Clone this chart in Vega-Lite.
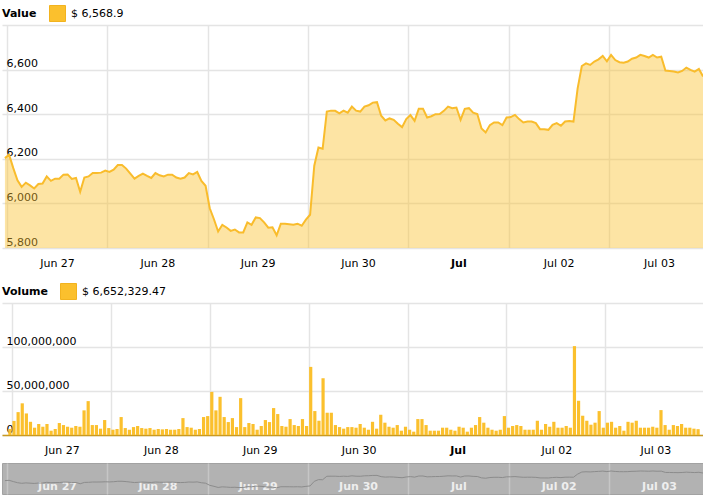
{
"$schema": "https://vega.github.io/schema/vega-lite/v6.json",
"padding": {"left": 0, "right": 0, "top": 5, "bottom": 0},
"background": "white",
"config": {
  "view": {"stroke": null},
  "font": "DejaVu Sans",
  "axis": {"labelFont": "DejaVu Sans", "labelFontSize": 11, "labelColor": "#000000", "gridColor": "#e4e4e4", "gridWidth": 1.5, "domain": false, "ticks": false, "labelFlush": false, "labelOverlap": false, "labelBound": false},
  "legend": {"orient": "top", "direction": "horizontal", "titleOrient": "left", "titleFont": "DejaVu Sans", "titleFontSize": 11, "titleFontWeight": "bold", "titleColor": "#000000", "titlePadding": 12, "labelFont": "DejaVu Sans", "labelFontSize": 11, "labelColor": "#000000", "labelOffset": 5, "symbolType": "square", "symbolSize": 256, "symbolOpacity": 1, "symbolStrokeWidth": 1, "symbolStrokeColor": "#f2b31f", "offset": 1, "padding": 0}
},
"datasets": {"d": [
{"t":"2018-06-26T23:30","p":6203,"v":6800000},
{"t":"2018-06-27T00:30","p":6218,"v":16000000},
{"t":"2018-06-27T01:30","p":6158,"v":26000000},
{"t":"2018-06-27T02:30","p":6104,"v":36000000},
{"t":"2018-06-27T03:30","p":6074,"v":24500000},
{"t":"2018-06-27T04:30","p":6093,"v":15000000},
{"t":"2018-06-27T05:30","p":6081,"v":8300000},
{"t":"2018-06-27T06:30","p":6067,"v":12500000},
{"t":"2018-06-27T07:30","p":6087,"v":9400000},
{"t":"2018-06-27T08:30","p":6089,"v":12500000},
{"t":"2018-06-27T09:30","p":6121,"v":4900000},
{"t":"2018-06-27T10:30","p":6101,"v":6800000},
{"t":"2018-06-27T11:30","p":6111,"v":13600000},
{"t":"2018-06-27T12:30","p":6111,"v":11300000},
{"t":"2018-06-27T13:30","p":6129,"v":9400000},
{"t":"2018-06-27T14:30","p":6130,"v":8300000},
{"t":"2018-06-27T15:30","p":6110,"v":10200000},
{"t":"2018-06-27T16:30","p":6114,"v":9400000},
{"t":"2018-06-27T17:30","p":6052,"v":28000000},
{"t":"2018-06-27T18:30","p":6116,"v":38500000},
{"t":"2018-06-27T19:30","p":6121,"v":11300000},
{"t":"2018-06-27T20:30","p":6136,"v":11300000},
{"t":"2018-06-27T21:30","p":6136,"v":7200000},
{"t":"2018-06-27T22:30","p":6138,"v":17000000},
{"t":"2018-06-27T23:30","p":6147,"v":7900000},
{"t":"2018-06-28T00:30","p":6141,"v":6000000},
{"t":"2018-06-28T01:30","p":6151,"v":6800000},
{"t":"2018-06-28T02:30","p":6172,"v":20400000},
{"t":"2018-06-28T03:30","p":6172,"v":7900000},
{"t":"2018-06-28T04:30","p":6156,"v":6000000},
{"t":"2018-06-28T05:30","p":6133,"v":9000000},
{"t":"2018-06-28T06:30","p":6111,"v":10200000},
{"t":"2018-06-28T07:30","p":6123,"v":7900000},
{"t":"2018-06-28T08:30","p":6133,"v":7200000},
{"t":"2018-06-28T09:30","p":6123,"v":7900000},
{"t":"2018-06-28T10:30","p":6114,"v":6000000},
{"t":"2018-06-28T11:30","p":6136,"v":6800000},
{"t":"2018-06-28T12:30","p":6126,"v":6400000},
{"t":"2018-06-28T13:30","p":6121,"v":6800000},
{"t":"2018-06-28T14:30","p":6129,"v":6000000},
{"t":"2018-06-28T15:30","p":6129,"v":6000000},
{"t":"2018-06-28T16:30","p":6116,"v":6800000},
{"t":"2018-06-28T17:30","p":6111,"v":19200000},
{"t":"2018-06-28T18:30","p":6116,"v":9000000},
{"t":"2018-06-28T19:30","p":6136,"v":8300000},
{"t":"2018-06-28T20:30","p":6130,"v":6000000},
{"t":"2018-06-28T21:30","p":6141,"v":6800000},
{"t":"2018-06-28T22:30","p":6101,"v":20400000},
{"t":"2018-06-28T23:30","p":6079,"v":21500000},
{"t":"2018-06-29T00:30","p":5978,"v":49000000},
{"t":"2018-06-29T01:30","p":5929,"v":28000000},
{"t":"2018-06-29T02:30","p":5874,"v":43400000},
{"t":"2018-06-29T03:30","p":5904,"v":20400000},
{"t":"2018-06-29T04:30","p":5892,"v":14700000},
{"t":"2018-06-29T05:30","p":5877,"v":19200000},
{"t":"2018-06-29T06:30","p":5883,"v":9000000},
{"t":"2018-06-29T07:30","p":5870,"v":41900000},
{"t":"2018-06-29T08:30","p":5870,"v":9000000},
{"t":"2018-06-29T09:30","p":5915,"v":13600000},
{"t":"2018-06-29T10:30","p":5904,"v":12500000},
{"t":"2018-06-29T11:30","p":5937,"v":6000000},
{"t":"2018-06-29T12:30","p":5934,"v":10200000},
{"t":"2018-06-29T13:30","p":5915,"v":17000000},
{"t":"2018-06-29T14:30","p":5891,"v":14700000},
{"t":"2018-06-29T15:30","p":5893,"v":30600000},
{"t":"2018-06-29T16:30","p":5857,"v":23800000},
{"t":"2018-06-29T17:30","p":5909,"v":10200000},
{"t":"2018-06-29T18:30","p":5909,"v":9400000},
{"t":"2018-06-29T19:30","p":5907,"v":18100000},
{"t":"2018-06-29T20:30","p":5904,"v":11300000},
{"t":"2018-06-29T21:30","p":5909,"v":10200000},
{"t":"2018-06-29T22:30","p":5900,"v":18100000},
{"t":"2018-06-29T23:30","p":5927,"v":10200000},
{"t":"2018-06-30T00:30","p":5949,"v":77400000},
{"t":"2018-06-30T01:30","p":6169,"v":27200000},
{"t":"2018-06-30T02:30","p":6251,"v":16200000},
{"t":"2018-06-30T03:30","p":6245,"v":64500000},
{"t":"2018-06-30T04:30","p":6412,"v":25300000},
{"t":"2018-06-30T05:30","p":6416,"v":25300000},
{"t":"2018-06-30T06:30","p":6415,"v":11300000},
{"t":"2018-06-30T07:30","p":6404,"v":9000000},
{"t":"2018-06-30T08:30","p":6416,"v":7200000},
{"t":"2018-06-30T09:30","p":6407,"v":9000000},
{"t":"2018-06-30T10:30","p":6434,"v":9000000},
{"t":"2018-06-30T11:30","p":6416,"v":8300000},
{"t":"2018-06-30T12:30","p":6412,"v":12500000},
{"t":"2018-06-30T13:30","p":6434,"v":8300000},
{"t":"2018-06-30T14:30","p":6440,"v":6000000},
{"t":"2018-06-30T15:30","p":6452,"v":15000000},
{"t":"2018-06-30T16:30","p":6454,"v":7200000},
{"t":"2018-06-30T17:30","p":6393,"v":23000000},
{"t":"2018-06-30T18:30","p":6372,"v":14000000},
{"t":"2018-06-30T19:30","p":6381,"v":9400000},
{"t":"2018-06-30T20:30","p":6375,"v":8300000},
{"t":"2018-06-30T21:30","p":6357,"v":11300000},
{"t":"2018-06-30T22:30","p":6342,"v":4900000},
{"t":"2018-06-30T23:30","p":6378,"v":9400000},
{"t":"2018-07-01T00:30","p":6396,"v":6000000},
{"t":"2018-07-01T01:30","p":6370,"v":3800000},
{"t":"2018-07-01T02:30","p":6425,"v":18100000},
{"t":"2018-07-01T03:30","p":6425,"v":18100000},
{"t":"2018-07-01T04:30","p":6385,"v":11300000},
{"t":"2018-07-01T05:30","p":6391,"v":4900000},
{"t":"2018-07-01T06:30","p":6400,"v":4900000},
{"t":"2018-07-01T07:30","p":6401,"v":4900000},
{"t":"2018-07-01T08:30","p":6415,"v":8300000},
{"t":"2018-07-01T09:30","p":6434,"v":8300000},
{"t":"2018-07-01T10:30","p":6427,"v":6000000},
{"t":"2018-07-01T11:30","p":6430,"v":4900000},
{"t":"2018-07-01T12:30","p":6375,"v":9400000},
{"t":"2018-07-01T13:30","p":6424,"v":8300000},
{"t":"2018-07-01T14:30","p":6427,"v":3800000},
{"t":"2018-07-01T15:30","p":6407,"v":8300000},
{"t":"2018-07-01T16:30","p":6401,"v":11300000},
{"t":"2018-07-01T17:30","p":6336,"v":20400000},
{"t":"2018-07-01T18:30","p":6318,"v":14000000},
{"t":"2018-07-01T19:30","p":6351,"v":8300000},
{"t":"2018-07-01T20:30","p":6363,"v":6000000},
{"t":"2018-07-01T21:30","p":6363,"v":4900000},
{"t":"2018-07-01T22:30","p":6351,"v":6000000},
{"t":"2018-07-01T23:30","p":6385,"v":21500000},
{"t":"2018-07-02T00:30","p":6387,"v":8300000},
{"t":"2018-07-02T01:30","p":6397,"v":10200000},
{"t":"2018-07-02T02:30","p":6378,"v":11300000},
{"t":"2018-07-02T03:30","p":6363,"v":10200000},
{"t":"2018-07-02T04:30","p":6367,"v":6000000},
{"t":"2018-07-02T05:30","p":6367,"v":6000000},
{"t":"2018-07-02T06:30","p":6360,"v":6000000},
{"t":"2018-07-02T07:30","p":6333,"v":16200000},
{"t":"2018-07-02T08:30","p":6333,"v":6000000},
{"t":"2018-07-02T09:30","p":6330,"v":12500000},
{"t":"2018-07-02T10:30","p":6352,"v":9400000},
{"t":"2018-07-02T11:30","p":6360,"v":15000000},
{"t":"2018-07-02T12:30","p":6348,"v":8300000},
{"t":"2018-07-02T13:30","p":6367,"v":8300000},
{"t":"2018-07-02T14:30","p":6370,"v":10200000},
{"t":"2018-07-02T15:30","p":6367,"v":8300000},
{"t":"2018-07-02T16:30","p":6516,"v":101000000},
{"t":"2018-07-02T17:30","p":6616,"v":38900000},
{"t":"2018-07-02T18:30","p":6628,"v":21900000},
{"t":"2018-07-02T19:30","p":6621,"v":16200000},
{"t":"2018-07-02T20:30","p":6636,"v":11700000},
{"t":"2018-07-02T21:30","p":6646,"v":14000000},
{"t":"2018-07-02T22:30","p":6661,"v":27200000},
{"t":"2018-07-02T23:30","p":6637,"v":8300000},
{"t":"2018-07-03T00:30","p":6666,"v":14000000},
{"t":"2018-07-03T01:30","p":6643,"v":15000000},
{"t":"2018-07-03T02:30","p":6633,"v":8300000},
{"t":"2018-07-03T03:30","p":6631,"v":10200000},
{"t":"2018-07-03T04:30","p":6636,"v":4900000},
{"t":"2018-07-03T05:30","p":6649,"v":15000000},
{"t":"2018-07-03T06:30","p":6654,"v":14000000},
{"t":"2018-07-03T07:30","p":6666,"v":16200000},
{"t":"2018-07-03T08:30","p":6661,"v":8300000},
{"t":"2018-07-03T09:30","p":6654,"v":8300000},
{"t":"2018-07-03T10:30","p":6666,"v":8300000},
{"t":"2018-07-03T11:30","p":6654,"v":9400000},
{"t":"2018-07-03T12:30","p":6658,"v":8300000},
{"t":"2018-07-03T13:30","p":6596,"v":28300000},
{"t":"2018-07-03T14:30","p":6594,"v":11300000},
{"t":"2018-07-03T15:30","p":6591,"v":6000000},
{"t":"2018-07-03T16:30","p":6587,"v":11300000},
{"t":"2018-07-03T17:30","p":6594,"v":10200000},
{"t":"2018-07-03T18:30","p":6609,"v":12500000},
{"t":"2018-07-03T19:30","p":6599,"v":8300000},
{"t":"2018-07-03T20:30","p":6591,"v":8300000},
{"t":"2018-07-03T21:30","p":6603,"v":7200000},
{"t":"2018-07-03T22:30","p":6568.9,"v":6652329.47}
]},
"resolve": {"scale": {"color": "independent", "x": "independent", "y": "independent"}, "legend": {"color": "independent"}},
"spacing": 7,
"vconcat": [
  {
    "resolve": {"scale": {"color": "independent", "x": "independent", "y": "independent"}, "legend": {"color": "independent"}},
    "spacing": 15,
    "vconcat": [
      {
        "width": 703, "height": 223,
        "data": {"name": "d"},
        "encoding": {
          "x": {"field": "t", "type": "temporal", "title": null,
            "scale": {"domain": [{"year": 2018, "month": 6, "date": 26, "hours": 22, "minutes": 48}, {"year": 2018, "month": 7, "date": 3, "hours": 22, "minutes": 58}]},
            "axis": {"grid": true, "tickCount": {"interval": "day", "step": 1}, "labelOffset": 50, "labelPadding": 9,
              "labelExpr": "date(datum.value) == 1 ? timeFormat(datum.value, '%b') : timeFormat(datum.value, '%b %d')",
              "labelFontWeight": {"condition": {"test": "date(datum.value) == 1", "value": "bold"}, "value": "normal"}}},
          "y": {"field": "p", "type": "quantitative", "title": null,
            "scale": {"domain": [5800, 6800], "nice": false, "zero": false},
            "axis": {"grid": true, "values": [5800, 6000, 6200, 6400, 6600, 6800], "format": ",d",
              "labelExpr": "datum.value >= 6800 ? '' : datum.label", "labelAlign": "left", "labelBaseline": "alphabetic", "labelPadding": -4, "labelOffset": -3}}
        },
        "layer": [
          {"mark": {"type": "area", "opacity": 0.43, "clip": true},
           "encoding": {"color": {"datum": "$ 6,568.9", "type": "nominal", "scale": {"range": ["#fbc02d"]}, "legend": {"title": "Value"}}}},
          {"mark": {"type": "line", "color": "#f9bc2c", "strokeWidth": 2}}
        ]
      },
      {
        "width": 703, "height": 132,
        "data": {"name": "d"},
        "encoding": {
          "x": {"field": "t", "type": "temporal", "title": null,
            "scale": {"domain": [{"year": 2018, "month": 6, "date": 26, "hours": 22, "minutes": 48}, {"year": 2018, "month": 7, "date": 3, "hours": 22, "minutes": 58}]},
            "axis": {"grid": true, "tickCount": {"interval": "day", "step": 1}, "labelOffset": 50, "labelPadding": 9, "domain": true, "domainColor": "#c99a22", "domainWidth": 1.5,
              "labelExpr": "date(datum.value) == 1 ? timeFormat(datum.value, '%b') : timeFormat(datum.value, '%b %d')",
              "labelFontWeight": {"condition": {"test": "date(datum.value) == 1", "value": "bold"}, "value": "normal"}}},
          "y": {"field": "v", "type": "quantitative", "title": null,
            "scale": {"domain": [0, 150000000], "nice": false},
            "axis": {"grid": true, "values": [0, 50000000, 100000000, 150000000], "format": ",d",
              "labelExpr": "datum.value >= 150000000 ? '' : datum.label", "labelAlign": "left", "labelBaseline": "alphabetic", "labelPadding": -4, "labelOffset": -3}},
          "color": {"datum": "$ 6,652,329.47", "type": "nominal", "scale": {"range": ["#fbc02d"]}, "legend": {"title": "Volume"}}
        },
        "mark": {"type": "bar", "size": 3.2}
      }
    ]
  },
  {
    "width": 703, "height": 31,
    "view": {"fill": "#b2b2b2", "stroke": "#a2a2a2"},
    "data": {"name": "d"},
    "encoding": {
      "x": {"field": "t", "type": "temporal", "title": null,
        "scale": {"domain": [{"year": 2018, "month": 6, "date": 26, "hours": 22, "minutes": 48}, {"year": 2018, "month": 7, "date": 3, "hours": 22, "minutes": 58}]},
        "axis": {"grid": true, "gridColor": "#c6c6c6", "tickCount": {"interval": "day", "step": 1}, "labelOffset": 50, "labelPadding": -8, "labelBaseline": "middle", "labelColor": "#eeeeee", "labelFontWeight": "bold",
          "labelExpr": "date(datum.value) == 1 ? timeFormat(datum.value, '%b') : timeFormat(datum.value, '%b %d')"}},
      "y": {"field": "p", "type": "quantitative", "title": null, "scale": {"domain": [5560, 7050], "nice": false, "zero": false}, "axis": null}
    },
    "mark": {"type": "line", "color": "#8c8c8c", "strokeWidth": 1}
  }
]
}
